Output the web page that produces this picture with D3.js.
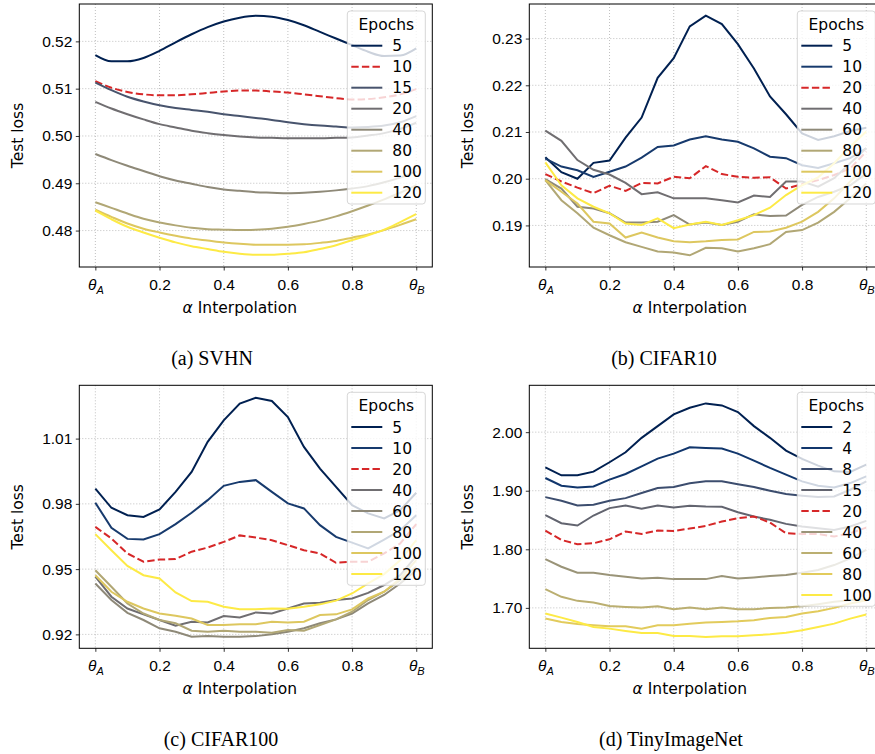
<!DOCTYPE html>
<html>
<head>
<meta charset="utf-8">
<script src="https://cdn.jsdelivr.net/npm/d3@7"></script>
<style>
body { margin: 0; background: #fff; }
text { fill: #000; }
</style>
</head>
<body>
<script>
// interpolation points (alpha)
let alphas = [0, 0.05, 0.1, 0.15, 0.2, 0.25, 0.3, 0.35, 0.4, 0.45, 0.5, 0.55, 0.6, 0.65, 0.7, 0.75, 0.8, 0.85, 0.9, 0.95, 1];
let xTicks = [0, 0.2, 0.4, 0.6, 0.8, 1];

// (a) SVHN
let svhnEpochs = [5, 10, 15, 20, 40, 80, 100, 120];
let svhn5 = [0.5171,0.5158,0.5158,0.5165,0.5180,0.5198,0.5215,0.5230,0.5242,0.5250,0.5254,0.5252,0.5245,0.5234,0.5220,0.5206,0.5192,0.5178,0.5169,0.5170,0.5185];
let svhn10 = [0.5116,0.5102,0.5093,0.5088,0.5086,0.5086,0.5088,0.5091,0.5094,0.5096,0.5096,0.5094,0.5092,0.5088,0.5084,0.5080,0.5077,0.5078,0.5082,0.5088,0.5099];
let svhn15 = [0.5113,0.5097,0.5083,0.5073,0.5065,0.5059,0.5055,0.5051,0.5046,0.5042,0.5038,0.5034,0.5029,0.5025,0.5022,0.5020,0.5018,0.5019,0.5022,0.5029,0.5042];
let svhn20 = [0.5072,0.5058,0.5046,0.5035,0.5025,0.5018,0.5011,0.5006,0.5002,0.4999,0.4997,0.4996,0.4995,0.4995,0.4995,0.4996,0.4997,0.5001,0.5006,0.5015,0.5028];
let svhn40 = [0.4962,0.4949,0.4937,0.4926,0.4915,0.4906,0.4899,0.4892,0.4887,0.4884,0.4881,0.4880,0.4879,0.4880,0.4882,0.4885,0.4889,0.4894,0.4902,0.4912,0.4925];
let svhn80 = [0.4860,0.4848,0.4836,0.4825,0.4817,0.4811,0.4806,0.4803,0.4802,0.4801,0.4802,0.4804,0.4808,0.4814,0.4821,0.4830,0.4841,0.4853,0.4866,0.4880,0.4896];
let svhn100 = [0.4844,0.4829,0.4815,0.4804,0.4796,0.4789,0.4783,0.4779,0.4775,0.4772,0.4770,0.4770,0.4770,0.4771,0.4774,0.4778,0.4785,0.4792,0.4801,0.4812,0.4824];
let svhn120 = [0.4842,0.4824,0.4808,0.4796,0.4785,0.4775,0.4767,0.4761,0.4755,0.4751,0.4749,0.4749,0.4751,0.4754,0.4761,0.4769,0.4780,0.4790,0.4802,0.4818,0.4835];
let svhnRange = [0.4723, 0.5279];
let svhnTicks = [0.48, 0.49, 0.50, 0.51, 0.52];

// (b) CIFAR10
let c10Epochs = [5, 10, 20, 40, 60, 80, 100, 120];
let c10_5 = [0.2046,0.2014,0.2000,0.2034,0.2039,0.2088,0.2131,0.2216,0.2258,0.2326,0.2349,0.2331,0.2288,0.2236,0.2176,0.2138,0.2097,0.2083,0.2091,0.2102,0.2109];
let c10_10 = [0.2043,0.2026,0.2018,0.2004,0.2015,0.2026,0.2045,0.2068,0.2071,0.2084,0.2091,0.2084,0.2079,0.2065,0.2047,0.2044,0.2029,0.2023,0.2033,0.2044,0.2065];
let c10_20 = [0.2010,0.1994,0.1981,0.1969,0.1985,0.1974,0.1991,0.1990,0.2004,0.2001,0.2027,0.2010,0.2004,0.2002,0.2003,0.1979,0.1988,0.1997,0.2008,0.2022,0.2058];
let c10_40 = [0.2103,0.2081,0.2040,0.2019,0.2009,0.1991,0.1967,0.1971,0.1958,0.1958,0.1958,0.1954,0.1949,0.1964,0.1961,0.1994,0.1994,0.1983,0.2001,0.2033,0.2065];
let c10_60 = [0.1999,0.1979,0.1940,0.1936,0.1926,0.1906,0.1906,0.1908,0.1922,0.1902,0.1906,0.1901,0.1908,0.1924,0.1920,0.1921,0.1944,0.1961,0.1972,0.1986,0.2011];
let c10_80 = [0.1997,0.1954,0.1926,0.1895,0.1879,0.1864,0.1854,0.1844,0.1842,0.1836,0.1852,0.1851,0.1844,0.1851,0.1860,0.1886,0.1890,0.1906,0.1929,0.1958,0.1990];
let c10_100 = [0.1997,0.1972,0.1947,0.1908,0.1904,0.1874,0.1885,0.1874,0.1866,0.1864,0.1866,0.1869,0.1870,0.1886,0.1887,0.1895,0.1908,0.1929,0.1958,0.1994,0.2029];
let c10_120 = [0.2035,0.1986,0.1958,0.1940,0.1926,0.1904,0.1901,0.1915,0.1894,0.1902,0.1908,0.1901,0.1911,0.1922,0.1938,0.1965,0.1986,0.2003,0.2033,0.2069,0.2101];
let c10Range = [0.1811, 0.2374];
let c10Ticks = [0.19, 0.20, 0.21, 0.22, 0.23];

// (c) CIFAR100
let c100Epochs = [5, 10, 20, 40, 60, 80, 100, 120];
let c100_5 = [0.9870,0.9782,0.9748,0.9740,0.9774,0.9855,0.9947,1.0085,1.0184,1.0261,1.0288,1.0273,1.0199,1.0062,0.9962,0.9878,0.9794,0.9756,0.9733,0.9771,0.9851];
let c100_10 = [0.9805,0.9690,0.9639,0.9636,0.9661,0.9707,0.9759,0.9817,0.9883,0.9901,0.9909,0.9855,0.9802,0.9779,0.9702,0.9648,0.9622,0.9595,0.9636,0.9679,0.9748];
let c100_20 = [0.9694,0.9641,0.9572,0.9534,0.9544,0.9546,0.9580,0.9599,0.9625,0.9655,0.9645,0.9633,0.9610,0.9587,0.9572,0.9529,0.9534,0.9534,0.9572,0.9618,0.9707];
let c100_40 = [0.9465,0.9373,0.9319,0.9292,0.9266,0.9240,0.9258,0.9255,0.9284,0.9278,0.9301,0.9296,0.9319,0.9342,0.9345,0.9358,0.9365,0.9391,0.9427,0.9472,0.9560];
let c100_60 = [0.9434,0.9358,0.9299,0.9266,0.9228,0.9212,0.9189,0.9192,0.9189,0.9189,0.9192,0.9201,0.9212,0.9228,0.9251,0.9269,0.9296,0.9342,0.9381,0.9434,0.9495];
let c100_80 = [0.9495,0.9419,0.9342,0.9296,0.9266,0.9251,0.9217,0.9212,0.9217,0.9212,0.9212,0.9208,0.9220,0.9217,0.9243,0.9269,0.9304,0.9358,0.9396,0.9449,0.9511];
let c100_100 = [0.9472,0.9396,0.9350,0.9319,0.9296,0.9286,0.9273,0.9243,0.9243,0.9246,0.9247,0.9258,0.9255,0.9258,0.9289,0.9292,0.9315,0.9365,0.9396,0.9457,0.9541];
let c100_120 = [0.9661,0.9587,0.9515,0.9472,0.9457,0.9393,0.9353,0.9350,0.9327,0.9315,0.9316,0.9319,0.9318,0.9327,0.9338,0.9355,0.9388,0.9434,0.9477,0.9541,0.9633];
let c100Range = [0.9136, 1.0345];
let c100Ticks = [0.92, 0.95, 0.98, 1.01];

// (d) TinyImageNet
let tinEpochs = [2, 4, 8, 15, 20, 40, 60, 80, 100];
let tin2 = [1.9400,1.9263,1.9263,1.9326,1.9486,1.9657,1.9903,2.0103,2.0303,2.0417,2.0491,2.0457,2.0343,2.0103,1.9903,1.9686,1.9543,1.9429,1.9331,1.9320,1.9446];
let tin4 = [1.9217,1.9086,1.9057,1.9074,1.9189,1.9286,1.9417,1.9549,1.9634,1.9743,1.9731,1.9720,1.9634,1.9514,1.9389,1.9274,1.9160,1.9086,1.9057,1.9131,1.9246];
let tin8 = [1.8891,1.8829,1.8749,1.8760,1.8829,1.8874,1.8960,1.9046,1.9063,1.9126,1.9160,1.9160,1.9109,1.9063,1.9000,1.8943,1.8914,1.8891,1.8903,1.9017,1.9160];
let tin15 = [1.8583,1.8446,1.8406,1.8577,1.8703,1.8749,1.8691,1.8749,1.8714,1.8743,1.8731,1.8726,1.8634,1.8560,1.8503,1.8434,1.8389,1.8360,1.8331,1.8389,1.8486];
let tin20 = [1.8320,1.8160,1.8086,1.8103,1.8171,1.8303,1.8263,1.8320,1.8314,1.8354,1.8400,1.8474,1.8531,1.8560,1.8457,1.8274,1.8263,1.8263,1.8217,1.8274,1.8371];
let tin40 = [1.7834,1.7703,1.7600,1.7600,1.7560,1.7531,1.7503,1.7514,1.7491,1.7491,1.7491,1.7543,1.7503,1.7520,1.7543,1.7560,1.7600,1.7646,1.7731,1.7846,1.7989];
let tin60 = [1.7320,1.7189,1.7120,1.7091,1.7034,1.7017,1.7006,1.7029,1.6977,1.7006,1.6977,1.7006,1.6977,1.6977,1.7000,1.7006,1.7029,1.7063,1.7103,1.7131,1.7149];
let tin80 = [1.6817,1.6760,1.6726,1.6703,1.6686,1.6686,1.6646,1.6703,1.6703,1.6731,1.6749,1.6760,1.6771,1.6789,1.6829,1.6846,1.6903,1.6943,1.7000,1.7074,1.7131];
let tin100 = [1.6903,1.6834,1.6760,1.6674,1.6646,1.6606,1.6571,1.6571,1.6520,1.6520,1.6503,1.6514,1.6514,1.6531,1.6549,1.6577,1.6617,1.6674,1.6731,1.6817,1.6886];
let tinRange = [1.631, 2.080];
let tinTicks = [1.70, 1.80, 1.90, 2.00];

let W = 353, H = 263;
let fontSize = 15.5;
let sans = "'DejaVu Sans', sans-serif";
let serif = "'Liberation Serif', 'Times New Roman', serif";

let svg = d3.select("body").append("svg")
    .attr("width", 875)
    .attr("height", 754)
    .style("font-family", sans);

let panels = [
    {caption: "(a) SVHN", epochs: svhnEpochs, series: [svhn5, svhn10, svhn15, svhn20, svhn40, svhn80, svhn100, svhn120],
     red: 1, range: svhnRange, ticks: svhnTicks, left: 79.3, top: 4, capX: 212, capY: 365, smooth: true},
    {caption: "(b) CIFAR10", epochs: c10Epochs, series: [c10_5, c10_10, c10_20, c10_40, c10_60, c10_80, c10_100, c10_120],
     red: 2, range: c10Range, ticks: c10Ticks, left: 529.3, top: 4, capX: 664, capY: 365, smooth: false},
    {caption: "(c) CIFAR100", epochs: c100Epochs, series: [c100_5, c100_10, c100_20, c100_40, c100_60, c100_80, c100_100, c100_120],
     red: 2, range: c100Range, ticks: c100Ticks, left: 79.3, top: 385.3, capX: 221, capY: 746, smooth: false},
    {caption: "(d) TinyImageNet", epochs: tinEpochs, series: [tin2, tin4, tin8, tin15, tin20, tin40, tin60, tin80, tin100],
     red: 4, range: tinRange, ticks: tinTicks, left: 529.3, top: 385.3, capX: 671, capY: 746, smooth: false}
];

panels.forEach(drawPanel);

function lineColor(p, i) {
    if (i === p.red) return "#d62728";
    return d3.interpolateCividis(i / (p.series.length - 1));
}

function drawPanel(p) {
    let x = d3.scaleLinear().domain([-0.05, 1.05]).range([p.left, p.left + W]);
    let y = d3.scaleLinear().domain(p.range).range([p.top + H, p.top]);
    let g = svg.append("g");

    // dotted grid
    g.selectAll(".vgrid").data(xTicks).enter().append("line")
        .attr("x1", d => x(d)).attr("x2", d => x(d))
        .attr("y1", p.top).attr("y2", p.top + H)
        .attr("stroke", "#b0b0b0").attr("stroke-width", 0.8)
        .attr("stroke-dasharray", "1,2");
    g.selectAll(".hgrid").data(p.ticks).enter().append("line")
        .attr("x1", p.left).attr("x2", p.left + W)
        .attr("y1", d => y(d)).attr("y2", d => y(d))
        .attr("stroke", "#b0b0b0").attr("stroke-width", 0.8)
        .attr("stroke-dasharray", "1,2");

    let line = d3.line()
        .x((d, i) => x(alphas[i]))
        .y(d => y(d));
    if (p.smooth) line.curve(d3.curveMonotoneX);

    g.selectAll(".series").data(p.series).enter().append("path")
        .attr("d", d => line(d))
        .attr("fill", "none")
        .attr("stroke", (d, i) => lineColor(p, i))
        .attr("stroke-width", 2)
        .attr("stroke-dasharray", (d, i) => i === p.red ? "7.4,3.2" : null);

    // axes
    let xAxis = g.append("g")
        .attr("transform", "translate(0," + (p.top + H) + ")")
        .call(d3.axisBottom(x).tickValues(xTicks).tickSize(3.5).tickPadding(8).tickFormat(""));
    xAxis.select(".domain").remove();
    xAxis.selectAll(".tick line").attr("stroke", "#000").attr("stroke-width", 0.8);
    xAxis.selectAll(".tick text")
        .attr("font-size", fontSize)
        .attr("font-family", null)
        .each(function(d) {
            let t = d3.select(this);
            if (d === 0 || d === 1) {
                t.append("tspan").style("font-style", "italic").text("θ");
                t.append("tspan").style("font-style", "italic").attr("font-size", 11).attr("dy", 4)
                    .text(d === 0 ? "A" : "B");
            } else {
                t.text(d3.format(".1f")(d));
            }
        });

    let yAxis = g.append("g")
        .attr("transform", "translate(" + p.left + ",0)")
        .call(d3.axisLeft(y).tickValues(p.ticks).tickSize(3.5).tickPadding(3.5).tickFormat(d3.format(".2f")));
    yAxis.select(".domain").remove();
    yAxis.selectAll(".tick line").attr("stroke", "#000").attr("stroke-width", 0.8);
    yAxis.selectAll(".tick text").attr("font-size", fontSize).attr("font-family", null);

    g.append("rect")
        .attr("x", p.left).attr("y", p.top)
        .attr("width", W).attr("height", H)
        .attr("fill", "none").attr("stroke", "#000").attr("stroke-width", 1);

    // labels
    let xl = g.append("text")
        .attr("x", p.left + W / 2 - 16).attr("y", p.top + H + 46)
        .attr("text-anchor", "middle").attr("font-size", fontSize);
    xl.append("tspan").style("font-style", "italic").text("α");
    xl.append("tspan").text(" Interpolation");

    g.append("text")
        .attr("transform", "translate(" + (p.left - 56) + "," + (p.top + H / 2) + ") rotate(-90)")
        .attr("text-anchor", "middle").attr("font-size", fontSize)
        .text("Test loss");

    g.append("text")
        .attr("x", p.capX).attr("y", p.capY)
        .attr("text-anchor", "middle")
        .style("font-family", serif)
        .attr("font-size", 20)
        .text(p.caption);

    // legend
    let lx = p.left + W - 7 - 78, ly = p.top + 7;
    let legend = g.append("g");
    legend.append("rect")
        .attr("x", lx).attr("y", ly)
        .attr("width", 78).attr("height", 25 + p.epochs.length * 21)
        .attr("rx", 3)
        .attr("fill", "#fff").attr("fill-opacity", 0.8)
        .attr("stroke", "#cccccc").attr("stroke-opacity", 0.8);
    legend.append("text")
        .attr("x", lx + 39).attr("y", ly + 18.5)
        .attr("text-anchor", "middle").attr("font-size", fontSize)
        .text("Epochs");
    let rows = legend.selectAll(".row").data(p.epochs).enter().append("g")
        .attr("transform", (d, i) => "translate(" + lx + "," + (ly + 34.7 + i * 21) + ")");
    rows.append("line")
        .attr("x1", 4).attr("x2", 35)
        .attr("stroke", (d, i) => lineColor(p, i))
        .attr("stroke-width", 2)
        .attr("stroke-dasharray", (d, i) => i === p.red ? "7.4,3.2" : null);
    rows.append("text")
        .attr("x", 45).attr("y", 5.5)
        .attr("font-size", fontSize)
        .text(d => d);
}
</script>
</body>
</html>
